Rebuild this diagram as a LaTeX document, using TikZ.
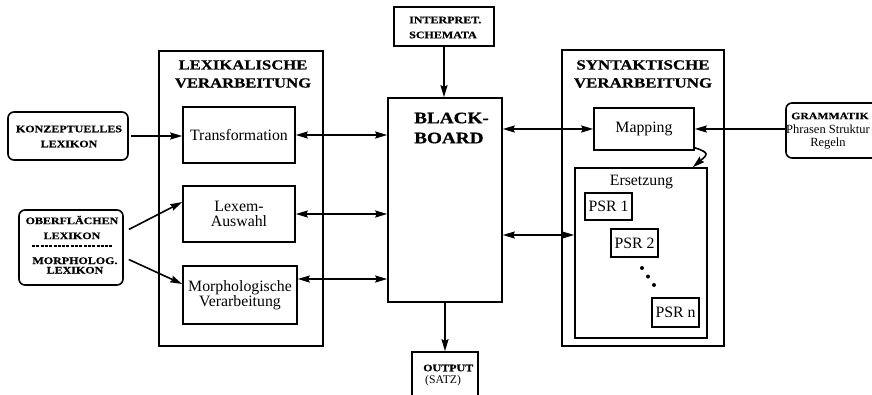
\documentclass[tikz,border=0pt]{standalone}
\usepackage{fontspec}
\setmainfont{Liberation Serif}
\newfontfamily\bk[FakeStretch=1.2,FakeBold=0.6]{Liberation Serif}
\usetikzlibrary{arrows.meta}
\begin{document}
\begin{tikzpicture}[x=1pt,y=-1pt,
  box/.style={draw, line width=1.6pt, inner sep=0pt, align=center},
  rbox/.style={box, rounded corners=6pt},
  rm/.style={font=\fontsize{15.8}{15}\selectfont},
  hd/.style={font=\bk\bfseries\fontsize{13.9}{18}\selectfont, align=center, inner sep=0pt},
  sb/.style={font=\bk\bfseries\fontsize{10}{15}\selectfont, align=center, inner sep=0pt},
  tip/.style={line width=1.6pt},
  arr/.style={tip, -{Stealth[length=12pt,width=7pt,inset=1.5pt]}},
  darr/.style={tip, {Stealth[length=12pt,width=7pt,inset=1.5pt]}-{Stealth[length=12pt,width=7pt,inset=1.5pt]}},
]
\useasboundingbox (0,0) rectangle (872,394);
\clip (0,0) rectangle (872,394);

% lexical processing
\node[box, minimum width=164pt, minimum height=295pt] (lex) at (241,198.5) {};
\node[hd] (lexT) at (243,74) {LEXIKALISCHE\\VERARBEITUNG};
\node[box, rm, minimum width=112pt, minimum height=56pt] (transf) at (239,135) {Transformation};
\node[box, rm, minimum width=112pt, minimum height=56pt] (lexem) at (239,214) {Lexem-\\Auswahl};
\node[box, rm, minimum width=114pt, minimum height=58pt] (morph) at (240,295) {Morphologische\\Verarbeitung};

% blackboard
\node[box, minimum width=114pt, minimum height=204pt] (bb) at (445,200) {};
\node[font=\bk\bfseries\fontsize{16}{20}\selectfont, align=left, inner sep=0pt, anchor=west] (bbT) at (414,128) {BLACK-\\BOARD};
\node[box, minimum width=100pt, minimum height=39pt] (interp) at (444,26.5) {};
\node[sb, align=left, anchor=west] (interpT) at (409,27.5) {INTERPRET.\\SCHEMATA};
\node[box, minimum width=66pt, minimum height=48pt] (out) at (445,376) {};
\node[font=\bk\bfseries\fontsize{10}{13}\selectfont, inner sep=0pt, anchor=west] (outA) at (423,368) {OUTPUT};
\node[font=\fontsize{11.7}{13}\selectfont, inner sep=0pt, anchor=west] (outB) at (425,381) {(SATZ)};

% syntactic processing
\node[box, minimum width=162pt, minimum height=296pt] (syn) at (643,198) {};
\node[font=\bk\bfseries\fontsize{14.1}{18}\selectfont, align=center, inner sep=0pt] (synT) at (643,74) {SYNTAKTISCHE\\VERARBEITUNG};
\node[box, rm, minimum width=100pt, minimum height=42pt] (map) at (644,129) {Mapping};
\node[box, minimum width=132pt, minimum height=170pt] (ers) at (641,253) {};
\node[rm, inner sep=0pt] (ersT) at (641.5,182) {Ersetzung};
\node[box, rm, minimum width=47pt, minimum height=27pt] (psr1) at (608.5,206.5) {PSR 1};
\node[box, rm, minimum width=47pt, minimum height=28pt] (psr2) at (634.5,243) {PSR 2};
\node[box, rm, minimum width=47pt, minimum height=29pt] (psrn) at (675.5,312.5) {PSR n};
\fill (642,268) circle (2pt);
\fill (648,276.5) circle (2pt);
\fill (654,285) circle (2pt);

% lexica
\node[rbox, minimum width=120pt, minimum height=48pt] (konz) at (68,136) {};
\node[sb] (konzT) at (69,136.5) {KONZEPTUELLES\\LEXIKON};
\node[rbox, minimum width=104pt, minimum height=75pt] (ober) at (71,247.5) {};
\node[sb] (oberA) at (72,227.5) {OBERFLÄCHEN\\LEXIKON};
\node[font=\bk\bfseries\fontsize{10}{9.5}\selectfont, align=center, inner sep=0pt] (oberB) at (75,265.5) {MORPHOLOG.\\LEXIKON};
\coordinate (dashL) at (32,246);
\coordinate (dashR) at (112,246);
\draw[line width=1.2pt, dash pattern=on 3pt off 1.3pt] (dashL) -- (dashR);

% grammar
\node[rbox, minimum width=114pt, minimum height=55pt] (gram) at (843,130.5) {};
\node[font=\bk\bfseries\fontsize{9.8}{12}\selectfont, inner sep=0pt] (gramA) at (830,116) {GRAMMATIK};
\node[font=\fontsize{12.5}{12.5}\selectfont, align=center, inner sep=0pt] (gramB) at (828,137) {Phrasen Struktur\\Regeln};

% connectors
\draw[arr] ([xshift=2pt]konz.east) -- (konz.east -| transf.west);
\draw[arr] ([xshift=5pt,yshift=18pt]ober.east) -- ([yshift=12pt]lexem.west);
\draw[arr] ([xshift=5pt,yshift=-12pt]ober.east) -- ([yshift=11pt]morph.west);
\draw[darr] (transf.east) -- (transf.east -| bb.west);
\draw[darr] (lexem.east) -- (lexem.east -| bb.west);
\draw[darr] ([yshift=16pt]morph.east) -- ([yshift=16pt]morph.east -| bb.west);
\draw[arr] (interp.south) -- (interp.south |- bb.north);
\draw[arr] (bb.south -| out.north) -- (out.north);
\draw[darr] (map.west -| bb.east) -- (map.west);
\draw[arr] (gram.west |- map.east) -- (map.east);
\draw[darr] ([yshift=18pt]ers.west -| bb.east) -- ([yshift=18pt]ers.west);
\draw[arr] ([yshift=3pt]map.south east) .. controls +(16,5) and +(14,-12) .. ([xshift=-15pt]ers.north east);
\end{tikzpicture}
\end{document}
